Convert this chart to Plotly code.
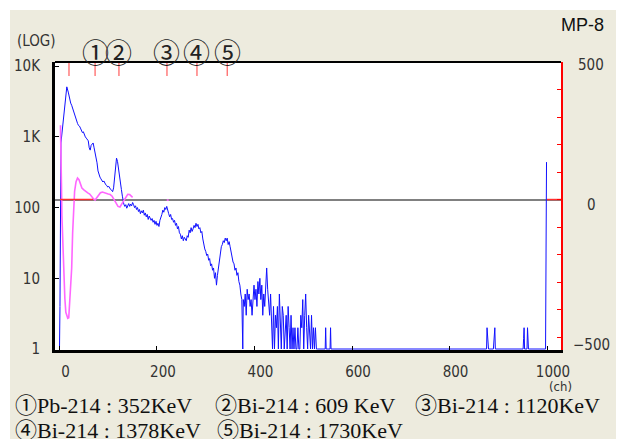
import plotly.graph_objects as go

# ---------------- data ----------------
# gamma spectrum (channel, counts) – counts of 0/1 sit on the log floor (1)
spec_ch = [0, 1, 3, 15, 18,
           21, 23, 25, 27, 29, 31, 33, 35, 37, 39, 41, 43, 45, 47, 49, 51, 53, 55, 57, 59, 61, 63,
           65, 67, 69, 71, 73, 75, 77, 79, 81, 83, 85, 87, 89, 91, 93, 95, 97, 99, 101, 103, 105,
           107, 109, 111, 113, 115, 117, 119, 121, 123, 125, 127, 129,
           130, 132, 134, 136, 138, 140, 142, 144, 146, 148, 150, 152, 154, 156, 158, 160, 162, 164,
           166, 168, 170, 172, 174, 176, 178, 180, 182, 184, 186, 188, 190, 192, 194, 196, 198, 200,
           202, 204, 206, 208, 210, 212, 214, 216, 218, 220, 222, 224, 226, 228, 230, 232, 234, 236,
           238, 240, 242, 244, 246, 248, 250, 252, 254, 256, 258, 260, 262, 264, 266, 268, 270, 272,
           274, 276, 278, 280, 282, 284, 286, 288, 290, 292, 294, 296, 298, 300, 302, 304, 306, 308,
           310, 312, 314, 316, 318, 320, 322, 324, 326, 328, 330, 332, 334, 336, 338, 340, 342, 344,
           346, 348, 350, 352, 354, 356, 358, 360, 362, 364, 366, 368, 370, 372, 374, 376,
           377, 379, 381, 383, 385, 387, 389, 391, 393, 395, 397, 399, 401, 403, 405, 407, 409, 411,
           413, 415, 417, 419, 421, 423, 425, 427, 429, 431, 433, 435, 437, 439, 441, 443, 445, 447,
           449, 451, 453, 455, 457, 459, 461, 463, 465, 467, 469, 471, 473, 475, 477, 479, 481, 483,
           485, 487, 489, 491, 493, 495, 497, 499, 501, 503, 505, 507, 509, 511, 513, 515, 517, 519,
           521, 523, 525, 527, 529, 545, 546, 547, 555, 556, 557,
           876, 877, 878, 879, 880, 890, 891, 892, 893, 894, 951, 952, 953, 954, 959, 960, 961, 962,
           997, 998, 999]
spec_counts = [1, 4, 820, 5100, 4300,
               3320, 3000, 2800, 2500, 2250, 2100, 1900, 1700, 1550, 1450, 1420, 1330, 1250, 1150, 1180, 1050, 1000, 960, 920, 880, 700, 650,
               760, 800, 820, 700, 600, 520, 430, 330, 290, 270, 255, 245, 230, 238, 215, 210, 205, 195, 200, 188, 180,
               176, 168, 190, 270, 400, 500, 450, 370, 290, 230, 180, 145,
               125, 112, 104, 110, 98, 106, 114, 104, 112, 106, 118, 110, 100, 106, 94, 100, 88, 94,
               82, 90, 84, 92, 78, 84, 74, 80, 68, 76, 72, 66, 70, 62, 66, 58, 64, 56,
               60, 54, 66, 72, 80, 92, 86, 100, 94, 104, 88, 82, 74, 80, 68, 70, 62, 66,
               56, 60, 50, 54, 44, 42, 36, 40, 34, 38, 36, 34, 40, 38, 48, 44, 52, 46,
               50, 56, 52, 60, 54, 58, 50, 52, 44, 46, 36, 30, 26, 24, 21, 22, 18, 19,
               15, 16, 13, 14, 10, 12, 8, 11, 14, 19, 22, 28, 30, 34, 32, 37, 34, 37,
               30, 33, 28, 22, 20, 17, 16, 13, 14, 11, 12, 9, 8, 6, 5, 1,
               5, 4, 6, 3, 7, 5, 6, 4, 5, 3, 6, 8, 5, 7, 4, 9, 6, 10,
               5, 8, 3, 6, 4, 9, 14, 7, 5, 3, 6, 2, 1, 4, 1, 3, 2, 4,
               1, 6, 2, 1, 4, 3, 1, 2, 3, 1, 4, 2, 1, 3, 1, 2, 1, 2,
               1, 1, 2, 1, 1, 3, 2, 5, 1, 3, 6, 2, 1, 3, 2, 1, 3, 1,
               2, 1, 2, 1, 1, 1, 2, 1, 1, 2, 1,
               1, 2, 1.4, 1.4, 1, 1, 1.4, 2, 2, 1, 1, 1.4, 2, 1, 1, 2, 1.4, 1,
               1, 22, 440]

# smoothed derivative curve on right axis
deriv_ch = [2, 3, 4, 5, 7, 9, 11, 13, 15, 17, 19, 21, 23, 25, 27, 29, 31, 34, 37, 40, 43, 46, 50,
            54, 58, 62, 66, 70, 73, 76, 80, 84, 88, 92, 96, 100, 104, 108, 112, 116, 120, 124, 128,
            132, 136, 140, 144, 148, 150, None, 220, 224]
deriv_val = [270, 200, 60, -60, -180, -280, -360, -410, -425, -432, -430, -380, -320, -250, -120, -20, 30, 65, 78, 72, 55, 42, 35,
             28, 24, 20, 10, 2, -2, 5, 18, 25, 27, 24, 21, 20, 18, 12, 0, -15, -25, -27, -15,
             0, 12, 19, 18, 10, 8, None, -2, -2]

# red baseline segments on right axis
base_ch = [1, 69, None, 1000, 1030]
base_val = [0, 0, None, 0, 0]

# peak markers
marker_ch = [19.5, 73, 122, 220.5, 282, 344]
marker_lbl = ["", "①", "②", "③", "④", "⑤"]

x_ticks = [0, 200, 400, 600, 800, 1000]
y_ticks = [1, 10, 100, 1000, 10000]
y_ticktext = ["1", "10", "100", "1K", "10K"]
y2_ticks = [-500, 0, 500]
y2_ticktext = ["−500", "0", "500"]

legend_line1 = [("①", "Pb-214 : 352KeV"), ("②", "Bi-214 : 609 KeV"), ("③", "Bi-214 : 1120KeV")]
legend_line2 = [("④", "Bi-214 : 1378KeV"), ("⑤", "Bi-214 : 1730KeV")]

# ---------------- figure ----------------
W, H = 618, 439
L, R, T, B = 55, 57, 62, 89
pw, ph = W - L - R, H - T - B
BEIGE = "#EDEBDE"
NARROW = "Liberation Sans Narrow, Arial Narrow, DejaVu Sans Condensed, Liberation Sans, sans-serif"
SERIF = "Liberation Serif, Noto Sans CJK JP, serif"
CJK = "Noto Sans CJK JP"
TXT = "#333333"

def px2paper_x(px):
    return (px - L) / pw

def px2paper_y(py):
    return (H - B - py) / ph

fig = go.Figure()
fig.add_trace(go.Scatter(x=spec_ch, y=spec_counts, mode="lines",
                         line=dict(color="#1010ff", width=1), yaxis="y", showlegend=False))
fig.add_trace(go.Scatter(x=deriv_ch, y=deriv_val, mode="lines",
                         line=dict(color="#ff66ff", width=1.6), yaxis="y2", showlegend=False,
                         connectgaps=False))
fig.add_trace(go.Scatter(x=base_ch, y=base_val, mode="lines",
                         line=dict(color="#ff3030", width=1.5), yaxis="y2", showlegend=False,
                         connectgaps=False))

shapes = []
for c in marker_ch:
    shapes.append(dict(type="line", xref="x", yref="paper", x0=c, x1=c,
                       y0=1 - 14 / ph, y1=1, line=dict(color="#ff3b3b", width=1)))
shapes.append(dict(type="line", xref="paper", yref="paper", x0=0, x1=1, y0=1, y1=1,
                   line=dict(color="black", width=2)))
# white outer margins
shapes.append(dict(type="rect", xref="paper", yref="paper", x0=px2paper_x(-5), x1=px2paper_x(W + 5),
                   y0=px2paper_y(10), y1=px2paper_y(-5), fillcolor="white", line=dict(width=0)))
shapes.append(dict(type="rect", xref="paper", yref="paper", x0=px2paper_x(-5), x1=px2paper_x(10),
                   y0=px2paper_y(H + 5), y1=px2paper_y(-5), fillcolor="white", line=dict(width=0)))
shapes.append(dict(type="rect", xref="paper", yref="paper", x0=px2paper_x(616), x1=px2paper_x(W + 5),
                   y0=px2paper_y(H + 5), y1=px2paper_y(-5), fillcolor="white", line=dict(width=0)))

ann = []
for c, t in zip(marker_ch, marker_lbl):
    if t:
        ann.append(dict(x=c, xref="x", y=px2paper_y(51), yref="paper", text=t, showarrow=False,
                        xanchor="center", yanchor="middle",
                        font=dict(family=CJK, size=27, color="#222222")))
for v, t, ys in zip(y2_ticks, y2_ticktext, [-8, -5, -3]):
    ann.append(dict(x=px2paper_x(591), xref="paper", y=v, yref="y2", text=t, showarrow=False,
                    xanchor="center", yanchor="middle", yshift=ys,
                    font=dict(family=NARROW, size=15, color=TXT)))
ann.append(dict(x=px2paper_x(36), xref="paper", y=px2paper_y(41), yref="paper", text="(LOG)",
                showarrow=False, xanchor="center", yanchor="middle",
                font=dict(family=NARROW, size=15, color=TXT)))
ann.append(dict(x=px2paper_x(606), xref="paper", y=px2paper_y(25), yref="paper", text="MP-8",
                showarrow=False, xanchor="right", yanchor="middle",
                font=dict(family="Liberation Sans, Arial, sans-serif", size=18, color="#111111")))
ann.append(dict(x=px2paper_x(560), xref="paper", y=px2paper_y(386), yref="paper", text="(ch)",
                showarrow=False, xanchor="center", yanchor="middle",
                font=dict(family=NARROW, size=13, color=TXT)))

def legend_text(circ, rest):
    return "<span style='font-family:Noto Sans CJK JP;font-size:22px'>%s</span>%s" % (circ, rest)

for (c, t), xs in zip(legend_line1, [13, 213, 413]):
    ann.append(dict(x=px2paper_x(xs), xref="paper", y=px2paper_y(403), yref="paper",
                    text=legend_text(c, t), showarrow=False, xanchor="left", yanchor="middle",
                    font=dict(family=SERIF, size=22, color="#111111")))
for (c, t), xs in zip(legend_line2, [13, 215]):
    ann.append(dict(x=px2paper_x(xs), xref="paper", y=px2paper_y(428), yref="paper",
                    text=legend_text(c, t), showarrow=False, xanchor="left", yanchor="middle",
                    font=dict(family=SERIF, size=22, color="#111111")))

fig.update_layout(
    width=W, height=H,
    margin=dict(l=L, r=R, t=T, b=B, pad=0),
    paper_bgcolor=BEIGE, plot_bgcolor="white",
    shapes=shapes, annotations=ann,
    xaxis=dict(range=[-9.2, 1028.7], tickvals=x_ticks, ticks="inside", ticklen=4,
               tickcolor="black", showgrid=False, zeroline=False, showline=True,
               linecolor="black", linewidth=3, mirror=False,
               tickfont=dict(family=NARROW, size=15, color=TXT),
               ticklabelstandoff=6, ticklabelshift=6),
    yaxis=dict(type="log", range=[-0.014, 4.059], tickvals=y_ticks, ticktext=y_ticktext,
               ticks="inside", ticklen=4, tickcolor="black", showgrid=False, zeroline=False,
               showline=True, linecolor="black", linewidth=3,
               tickfont=dict(family=NARROW, size=15, color=TXT), ticklabelstandoff=9),
    yaxis2=dict(overlaying="y", side="right", range=[-547, 500], tickvals=y2_ticks,
                showticklabels=False, ticks="inside", ticklen=4, tickcolor="red",
                minor=dict(dtick=100, tick0=0, ticks="inside", ticklen=4, tickcolor="red"),
                showgrid=False, zeroline=True, zerolinecolor="#808080", zerolinewidth=2,
                showline=True, linecolor="red", linewidth=2),
)

fig.write_html("out.html")
